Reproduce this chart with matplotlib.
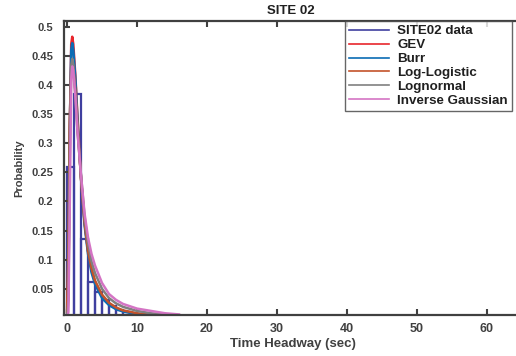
import matplotlib.pyplot as plt
from matplotlib.lines import Line2D

plt.rcParams['font.family'] = ['Liberation Sans', 'DejaVu Sans']
plt.rcParams['font.weight'] = 'bold'

# histogram of observed headways (bin width 1 s)
bin_left = [0, 1, 2, 3, 4, 5, 6, 7, 8, 9, 10, 11, 12, 13, 14, 15]
site02_prob = [0.26, 0.385, 0.136, 0.061, 0.045, 0.03, 0.02, 0.014, 0.01,
               0.007, 0.005, 0.004, 0.003, 0.002, 0.002, 0.001]

# fitted pdf curves
x_fit = [0, 0.2, 0.4, 0.6, 0.75, 0.9, 1.2, 1.5, 2, 2.5, 3, 3.5, 4, 5, 6, 7, 8, 10, 12, 14, 16]
gev = [0, 0.05, 0.32, 0.47, 0.483, 0.47, 0.415, 0.345, 0.24, 0.165, 0.115, 0.083, 0.062,
       0.037, 0.024, 0.016, 0.012, 0.007, 0.0045, 0.003, 0.002]
burr = [0, 0.06, 0.33, 0.46, 0.472, 0.46, 0.41, 0.34, 0.24, 0.16, 0.11, 0.078, 0.058,
        0.034, 0.022, 0.015, 0.011, 0.0065, 0.004, 0.003, 0.002]
loglogistic = [0.01, 0.12, 0.34, 0.43, 0.44, 0.43, 0.39, 0.33, 0.24, 0.165, 0.115, 0.085, 0.064,
               0.04, 0.026, 0.018, 0.013, 0.008, 0.005, 0.0035, 0.0025]
lognormal = [0, 0.03, 0.28, 0.43, 0.445, 0.435, 0.38, 0.32, 0.245, 0.175, 0.128, 0.097, 0.077,
             0.05, 0.034, 0.025, 0.019, 0.012, 0.008, 0.006, 0.004]
invgauss = [0, 0.01, 0.2, 0.41, 0.432, 0.425, 0.38, 0.32, 0.245, 0.18, 0.138, 0.11, 0.09,
            0.06, 0.041, 0.031, 0.024, 0.016, 0.012, 0.008, 0.006]

col_data = '#3f3f9f'
col_gev = '#e8262c'
col_burr = '#0b6cb4'
col_ll = '#c4532a'
col_ln = '#808080'
col_ig = '#d474c4'
txt = '#404040'

fig = plt.figure(figsize=(5.16, 3.56), dpi=100)
# right spine sits just past the image edge, like the reference
ax = fig.add_axes([64 / 516, 41 / 356, 457 / 516, 294 / 356])

ax.bar(bin_left, site02_prob, width=1, align='edge', fill=False,
       edgecolor=col_data, linewidth=1.6)
ax.plot(x_fit, gev, color=col_gev, lw=1.8)
ax.plot(x_fit, burr, color=col_burr, lw=1.8)
ax.plot(x_fit, loglogistic, color=col_ll, lw=1.8)
ax.plot(x_fit, lognormal, color=col_ln, lw=1.8)
ax.plot(x_fit, invgauss, color=col_ig, lw=1.8)

ax.set_xlim(-0.43, 64.86)
ax.set_ylim(0.005, 0.51)
ax.set_xticks([0, 10, 20, 30, 40, 50, 60])
ax.set_yticks([0.05, 0.1, 0.15, 0.2, 0.25, 0.3, 0.35, 0.4, 0.45, 0.5])
ax.set_yticklabels(['0.05', '0.1', '0.15', '0.2', '0.25', '0.3', '0.35', '0.4', '0.45', '0.5'])
ax.tick_params(direction='in', length=4, width=1.5, colors=txt,
               top=True, right=False)
ax.tick_params(axis='x', labelsize=9, pad=6)
ax.tick_params(axis='y', labelsize=8, pad=8)
for s in ax.spines.values():
    s.set_color(txt)
    s.set_linewidth(1.6)

ax.set_xlabel('Time Headway (sec)', fontsize=9.5, color=txt, fontweight='bold', labelpad=2)
ax.set_ylabel('Probability', fontsize=8, color=txt, fontweight='bold', labelpad=5)
fig.text(291 / 516, 1 - 11.5 / 356, 'SITE 02', fontsize=9.5, color='#202020',
         fontweight='bold', ha='center', va='center')

handles = [Line2D([], [], color=c, lw=1.2) for c in
           [col_data, col_gev, col_burr, col_ll, col_ln, col_ig]]
labels = ['SITE02 data', 'GEV', 'Burr', 'Log-Logistic', 'Lognormal', 'Inverse Gaussian']
leg = fig.legend(handles, labels, loc='upper left', bbox_to_anchor=(345 / 516, 1 - 21 / 356),
                 fontsize=9.6, frameon=True, fancybox=False, borderaxespad=0,
                 handlelength=3.0, handletextpad=0.6, labelspacing=0.12,
                 borderpad=0.3)
leg.get_frame().set_edgecolor(txt)
leg.get_frame().set_linewidth(1.0)
for t in leg.get_texts():
    t.set_color('#202020')

fig.savefig('out.png', dpi=100)
